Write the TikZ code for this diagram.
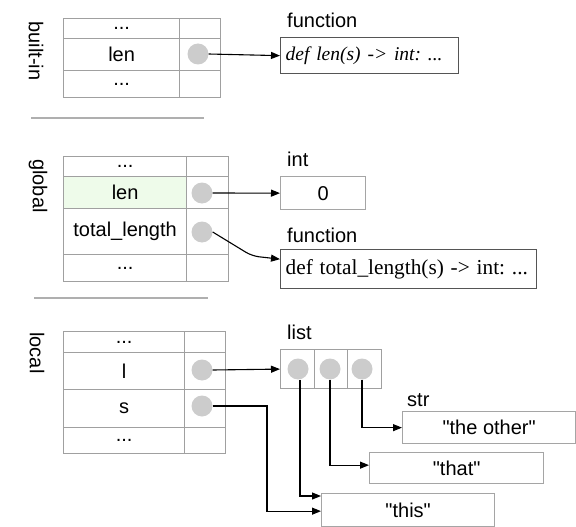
\documentclass[tikz,border=0pt]{standalone}
\usepackage{fontspec}
\setmainfont{Liberation Serif}
\setsansfont{Liberation Sans}
\usetikzlibrary{arrows.meta}
\definecolor{tblgray}{RGB}{160,160,160}
\definecolor{boxdark}{RGB}{85,85,85}
\definecolor{boxlight}{RGB}{165,165,165}
\definecolor{dotgray}{RGB}{204,204,204}
\definecolor{lengreen}{RGB}{238,251,234}
\definecolor{sepgray}{RGB}{175,175,175}
\newcommand{\sq}{\XeTeXglyph\XeTeXglyphindex "quotedbl"\relax}
\tikzset{
  lbl/.style={font=\sffamily\fontsize{20}{23}\selectfont, inner sep=0pt},
  cell/.style={draw=tblgray, line width=1.2pt, anchor=north west, inner sep=0pt,
    font=\sffamily\fontsize{20}{23}\selectfont},
  dot/.style={circle, fill=dotgray, minimum size=21pt, inner sep=0pt},
  funbox/.style={draw=boxdark, line width=1.3pt, anchor=north west, inner sep=0pt,
    text width=#1, font=\rmfamily\fontsize{20.5}{23}\selectfont\frenchspacing},
  valbox/.style={draw=boxlight, line width=1.3pt, anchor=north west, inner sep=0pt,
    font=\sffamily\fontsize{20}{23}\selectfont},
  arr/.style={draw=black, line width=1.1pt, -{Triangle[length=9pt,width=7pt]}},
  sep/.style={draw=sepgray, line width=1.4pt},
  side/.style={lbl, rotate=-90}
}
\begin{document}
\begin{tikzpicture}[x=1pt, y=-1pt]
\useasboundingbox (0,0) rectangle (576,527);

% ---------------- built-in ----------------
\node[side] (lblbuiltin) at (36,51) {built-in};
\node[cell, minimum width=116pt, minimum height=20pt] (b1a) at (63,18) {...};
\node[cell, minimum width=41pt, minimum height=20pt] (b1b) at (179,18) {};
\node[cell, minimum width=116pt, minimum height=32pt] (b2a) at (63,38) {len};
\node[cell, minimum width=41pt, minimum height=32pt] (b2b) at (179,38) {};
\node[cell, minimum width=116pt, minimum height=27pt] (b3a) at (63,70) {...};
\node[cell, minimum width=41pt, minimum height=27pt] (b3b) at (179,70) {};
\node[dot] (bc) at (198,54) {};

\node[lbl, anchor=west] (lblfun1) at (287,20) {function};
\node[funbox=178pt, minimum height=36pt] (fun1) at (280,37)
  {\hspace*{5pt}\fontsize{19.5}{23}\selectfont\itshape def len(s) -> int: ...};
\draw[arr] (bc.east) -- (fun1.west);

\coordinate (s1a) at (31,118);
\coordinate (s1b) at (204,118);
\draw[sep] (s1a) -- (s1b);

% ---------------- global ----------------
\node[side] (lblglobal) at (38,186) {global};
\node[cell, minimum width=123pt, minimum height=20pt] (g1a) at (63,156) {...};
\node[cell, minimum width=42pt, minimum height=20pt] (g1b) at (186,156) {};
\node[cell, fill=lengreen, minimum width=123pt, minimum height=32pt] (g2a) at (63,176) {len};
\node[cell, minimum width=42pt, minimum height=32pt] (g2b) at (186,176) {};
\node[cell, minimum width=123pt, minimum height=46pt] (g3a) at (63,208) {total\_length};
\node[cell, minimum width=42pt, minimum height=46pt] (g3b) at (186,208) {};
\node[cell, minimum width=123pt, minimum height=27pt] (g4a) at (63,254) {...};
\node[cell, minimum width=42pt, minimum height=27pt] (g4b) at (186,254) {};
\node[dot] (gc1) at (202,193) {};
\node[dot] (gc2) at (202,232) {};

\node[lbl, anchor=west] (lblint) at (287,159) {int};
\node[valbox, minimum width=85pt, minimum height=33pt] (intbox) at (280,176) {0};
\draw[arr] (gc1.east) -- (intbox.west);

\node[lbl, anchor=west] (lblfun2) at (287,235) {function};
\node[funbox=256pt, minimum height=39pt] (fun2) at (280,249)
  {\hspace*{5pt}\fontsize{21.3}{24}\selectfont def total\_length(s) -> int: ...};
\draw[arr, rounded corners=7pt] (gc2.east) -- (252,256) -- ([yshift=10pt]fun2.west);

\coordinate (s2a) at (34,298);
\coordinate (s2b) at (208,298);
\draw[sep] (s2a) -- (s2b);

% ---------------- local ----------------
\node[side] (lbllocal) at (37,353) {local};
\node[cell, minimum width=121pt, minimum height=21pt] (l1a) at (63,331) {...};
\node[cell, minimum width=41pt, minimum height=21pt] (l1b) at (184,331) {};
\node[cell, minimum width=121pt, minimum height=37pt] (l2a) at (63,352) {l};
\node[cell, minimum width=41pt, minimum height=37pt] (l2b) at (184,352) {};
\node[cell, minimum width=121pt, minimum height=38pt] (l3a) at (63,389) {s};
\node[cell, minimum width=41pt, minimum height=38pt] (l3b) at (184,389) {};
\node[cell, minimum width=121pt, minimum height=26pt] (l4a) at (63,427) {...};
\node[cell, minimum width=41pt, minimum height=26pt] (l4b) at (184,427) {};
\node[dot] (lc1) at (202,370) {};
\node[dot] (lc2) at (202,406) {};

\node[lbl, anchor=west] (lbllist) at (287,332) {list};
\node[cell, minimum width=34pt, minimum height=39pt] (li1) at (280,349) {};
\node[cell, minimum width=33pt, minimum height=39pt] (li2) at (314,349) {};
\node[cell, minimum width=34pt, minimum height=39pt] (li3) at (347,349) {};
\node[dot] (lic1) at (298,369) {};
\node[dot] (lic2) at (330,369) {};
\node[dot] (lic3) at (362,369) {};

\node[lbl, anchor=west] (lblstr) at (407,400) {str};
\node[valbox, minimum width=173pt, minimum height=32pt] (other) at (402,411) {\sq the other\sq};
\node[valbox, minimum width=174pt, minimum height=31pt] (that) at (369,452) {\sq that\sq};
\node[valbox, minimum width=173pt, minimum height=33pt] (this) at (321,493) {\sq this\sq};

\draw[arr] (lc1.east) -- (li1.west);
\draw[arr] (lic3.south) |- (other.west);
\draw[arr] (lic2.south) |- ([yshift=3pt]that.west);
\draw[arr] ([xshift=2pt]lic1.south) |- ([yshift=-3pt]this.north west);
\draw[arr] (lc2.east) -- (267,406) |- ([yshift=-1pt]this.west);
\end{tikzpicture}
\end{document}
